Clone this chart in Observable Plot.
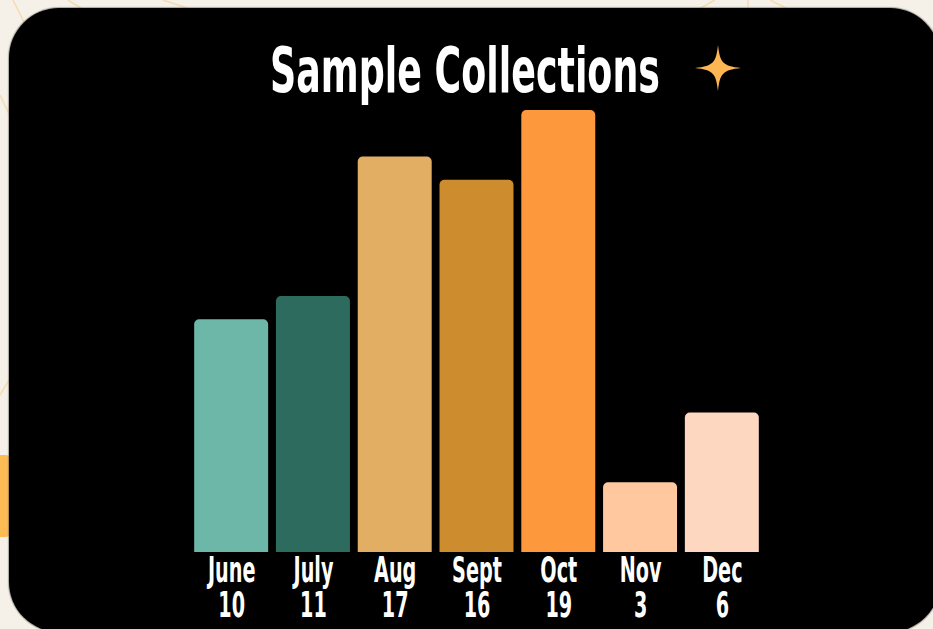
<!DOCTYPE html>
<html>
<head>
<meta charset="utf-8">
<script src="https://cdn.jsdelivr.net/npm/d3@7"></script>
<script src="https://cdn.jsdelivr.net/npm/@observablehq/plot@0.6"></script>
<style>
  html, body { margin: 0; padding: 0; }
  body { width: 933px; height: 629px; overflow: hidden; position: relative; background: #f5f1e8; }
  #bg { position: absolute; left: 0; top: 0; }
  #card { position: absolute; left: 9px; top: 8px; width: 931px; height: 624px; background: #000; border-radius: 50px; box-shadow: 0 0 1px 1px rgba(90,90,80,0.5); }
  #title { position: absolute; left: 0; top: 0; }
  #chart { position: absolute; left: 0; top: 100px; }
</style>
</head>
<body>
<svg id="bg" width="933" height="629">
  <g stroke="#f7d9ad" stroke-width="1.5" fill="none" opacity="0.9">
    <line x1="13" y1="0" x2="30" y2="34"/>
    <line x1="68" y1="0" x2="84" y2="10"/>
    <line x1="163" y1="0" x2="190" y2="9"/>
    <line x1="0" y1="95" x2="12" y2="120"/>
    <line x1="0" y1="395" x2="12" y2="375"/>
    <line x1="697" y1="10" x2="715" y2="0"/>
    <line x1="748" y1="0" x2="748" y2="10"/>
    <line x1="770" y1="0" x2="790" y2="10"/>
  </g>
  <rect x="-10" y="455" width="22" height="82" rx="6" fill="#fcbb55"/>
</svg>
<div id="card"></div>
<svg id="title" width="933" height="110">
  <text id="ttext" transform="translate(465,92)" text-anchor="middle" fill="#fff"
        font-family="'Liberation Sans Narrow','DejaVu Sans Condensed',sans-serif" font-size="62" font-weight="bold">Sample Collections</text>
  <path d="M718,45 C720,62 722,66 741,68 C722,70 720,74 718,91 C716,74 714,70 695,68 C714,66 716,62 718,45 Z" fill="#fdb651"/>
</svg>
<div id="chart"></div>
<script>
const months = ["June", "July", "Aug", "Sept", "Oct", "Nov", "Dec"];
const counts = [10, 11, 17, 16, 19, 3, 6];
const colors = ["#6db7a9", "#2e6b5f", "#e2ae64", "#cd8d2e", "#fe983c", "#ffc89e", "#fed7c0"];

const data = months.map((m, i) => ({month: m, count: counts[i], color: colors[i]}));
const countOf = new Map(data.map(d => [d.month, d.count]));

const font = "'Liberation Sans Narrow','DejaVu Sans Condensed',sans-serif";

const chart = Plot.plot({
  width: 933,
  height: 529,
  marginLeft: 186,
  marginRight: 166,
  marginTop: 10,
  marginBottom: 77,
  style: {background: "transparent", color: "#fff", fontFamily: font, overflow: "visible"},
  x: {domain: months, paddingInner: 0.0955, paddingOuter: 0.1, round: false, axis: null, label: null},
  y: {domain: [0, d3.max(counts)], axis: null},
  color: {type: "identity"},
  marks: [
    // rounded top corners only: the bottom is extended past the baseline and clipped to the frame
    Plot.barY(data, {x: "month", y: "count", fill: "color", rx: 5, insetBottom: -8, clip: true}),
    Plot.axisX({
      tickSize: 0,
      tickPadding: 5,
      fontSize: 35,
      fontWeight: "bold",
      lineHeight: 1,
      label: null,
      tickFormat: m => m + "\n" + countOf.get(m)
    })
  ]
});
document.getElementById("chart").appendChild(chart);

// condense the tick labels to match the narrow display face
d3.select(chart).selectAll('g[aria-label="x-axis tick label"] text').each(function () {
  const t = this.getAttribute("transform") || "";
  this.setAttribute("transform", t + " scale(0.61,1)");
});

// fit title width
const tt = document.getElementById("ttext");
const len = tt.getComputedTextLength();
tt.setAttribute("transform", `translate(465,92) scale(${390 / len},1)`);
</script>
</body>
</html>
